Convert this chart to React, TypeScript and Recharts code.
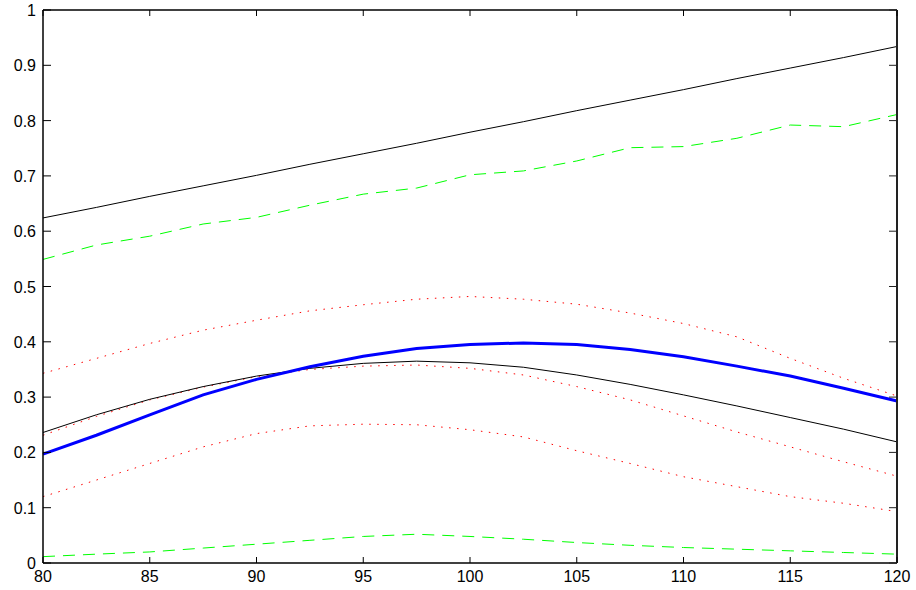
import { LineChart, Line, XAxis, YAxis } from "recharts";

const xValues = [80, 82.5, 85, 87.5, 90, 92.5, 95, 97.5, 100, 102.5, 105, 107.5, 110, 112.5, 115, 117.5, 120];
const xTicks = [80, 85, 90, 95, 100, 105, 110, 115, 120];
const yTicks = [0, 0.1, 0.2, 0.3, 0.4, 0.5, 0.6, 0.7, 0.8, 0.9, 1];

const blackStraight = [0.624, 0.643, 0.663, 0.682, 0.701, 0.721, 0.74, 0.759, 0.779, 0.798, 0.818, 0.837, 0.856, 0.876, 0.895, 0.914, 0.934];
const greenUpper = [0.549, 0.575, 0.591, 0.613, 0.625, 0.647, 0.667, 0.678, 0.702, 0.709, 0.727, 0.751, 0.753, 0.768, 0.792, 0.789, 0.811];
const redUpper = [0.343, 0.37, 0.397, 0.421, 0.439, 0.456, 0.467, 0.477, 0.482, 0.477, 0.468, 0.452, 0.433, 0.409, 0.37, 0.334, 0.302];
const blueMain = [0.197, 0.231, 0.268, 0.304, 0.332, 0.355, 0.374, 0.388, 0.395, 0.398, 0.395, 0.386, 0.373, 0.356, 0.338, 0.316, 0.293];
const blackCurve = [0.236, 0.268, 0.296, 0.319, 0.338, 0.352, 0.361, 0.365, 0.362, 0.354, 0.34, 0.323, 0.304, 0.284, 0.263, 0.242, 0.219];
const redMiddle = [0.231, 0.265, 0.295, 0.318, 0.337, 0.35, 0.356, 0.358, 0.352, 0.34, 0.319, 0.295, 0.266, 0.237, 0.21, 0.183, 0.157];
const redLower = [0.12, 0.15, 0.18, 0.21, 0.234, 0.248, 0.251, 0.25, 0.241, 0.228, 0.203, 0.18, 0.156, 0.138, 0.12, 0.108, 0.093];
const greenLower = [0.0115, 0.016, 0.02, 0.027, 0.034, 0.041, 0.048, 0.052, 0.048, 0.043, 0.037, 0.032, 0.028, 0.025, 0.022, 0.019, 0.016];

const data = xValues.map((x, i) => ({
  x,
  blackStraight: blackStraight[i],
  greenUpper: greenUpper[i],
  redUpper: redUpper[i],
  blueMain: blueMain[i],
  blackCurve: blackCurve[i],
  redMiddle: redMiddle[i],
  redLower: redLower[i],
  greenLower: greenLower[i],
}));

const font = { fontFamily: "Liberation Sans, Arial, sans-serif", fontSize: 16, fill: "#000" };

function BottomTick(props: any) {
  const { x, y, payload } = props;
  return (
    <g>
      <line x1={x} y1={y} x2={x} y2={y - 6} stroke="#000" />
      <text x={x} y={y + 19} textAnchor="middle" {...font}>{String(payload.value)}</text>
    </g>
  );
}

function TopTick(props: any) {
  const { x, y } = props;
  return <line x1={x} y1={y} x2={x} y2={y + 6} stroke="#000" />;
}

function LeftTick(props: any) {
  const { x, y, payload } = props;
  return (
    <g>
      <line x1={x} y1={y} x2={x + 8} y2={y} stroke="#000" />
      <text x={x - 7} y={y + 6} textAnchor="end" {...font}>{String(payload.value)}</text>
    </g>
  );
}

function RightTick(props: any) {
  const { x, y } = props;
  return <line x1={x} y1={y} x2={x - 8} y2={y} stroke="#222" />;
}

export default function App() {
  return (
    <div style={{ position: "absolute", left: 0, top: 0, width: 916, height: 590, background: "#fff" }}>
      <LineChart width={916} height={590} data={data} margin={{ top: 9, right: 18, bottom: 0, left: 0 }}>
        <XAxis
          dataKey="x"
          type="number"
          domain={[80, 120]}
          ticks={xTicks}
          interval={0}
          height={27}
          tickSize={0}
          tickMargin={0}
          tickLine={false}
          axisLine={{ stroke: "#000", strokeWidth: 1.5 }}
          tick={BottomTick}
        />
        <XAxis
          xAxisId="top"
          orientation="top"
          dataKey="x"
          type="number"
          domain={[80, 120]}
          ticks={xTicks}
          interval={0}
          height={1}
          tickSize={0}
          tickMargin={0}
          tickLine={false}
          axisLine={{ stroke: "#000", strokeWidth: 1.5 }}
          tick={TopTick}
        />
        <YAxis
          type="number"
          domain={[0, 1]}
          ticks={yTicks}
          interval={0}
          width={43}
          tickSize={0}
          tickMargin={0}
          tickLine={false}
          axisLine={{ stroke: "#000", strokeWidth: 1.5 }}
          tick={LeftTick}
        />
        <YAxis
          yAxisId="right"
          orientation="right"
          type="number"
          domain={[0, 1]}
          ticks={yTicks}
          interval={0}
          width={1}
          tickSize={0}
          tickMargin={0}
          tickLine={false}
          axisLine={{ stroke: "#222", strokeWidth: 2 }}
          tick={RightTick}
        />
        <Line type="linear" dataKey="blackStraight" xAxisId="top" yAxisId="right" stroke="#000" strokeWidth={1} dot={false} isAnimationActive={false} />
        <Line type="linear" dataKey="greenUpper" stroke="#00ff00" strokeWidth={1} strokeDasharray="12 8" dot={false} isAnimationActive={false} />
        <Line type="linear" dataKey="greenLower" stroke="#00ff00" strokeWidth={1} strokeDasharray="12 8" dot={false} isAnimationActive={false} />
        <Line type="linear" dataKey="redUpper" stroke="#ff0000" strokeWidth={1} strokeDasharray="1.5 6.5" dot={false} isAnimationActive={false} />
        <Line type="linear" dataKey="redMiddle" stroke="#ff0000" strokeWidth={1} strokeDasharray="1.5 6.5" dot={false} isAnimationActive={false} />
        <Line type="linear" dataKey="redLower" stroke="#ff0000" strokeWidth={1} strokeDasharray="1.5 6.5" dot={false} isAnimationActive={false} />
        <Line type="linear" dataKey="blackCurve" stroke="#000" strokeWidth={1} dot={false} isAnimationActive={false} />
        <Line type="linear" dataKey="blueMain" stroke="#0000ff" strokeWidth={3} dot={false} isAnimationActive={false} />
      </LineChart>
    </div>
  );
}
